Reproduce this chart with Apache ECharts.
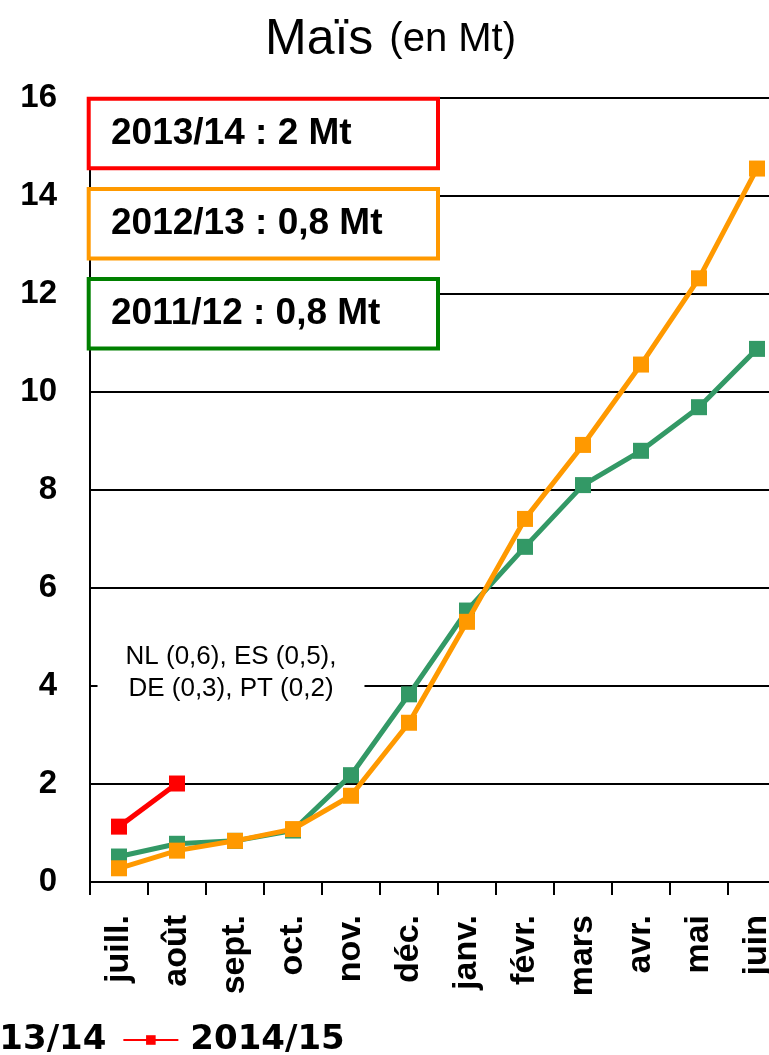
<!DOCTYPE html>
<html>
<head>
<meta charset="utf-8">
<script src="https://cdn.jsdelivr.net/npm/echarts@6/dist/echarts.min.js"></script>
<style>html,body{margin:0;padding:0;background:#fff;overflow:hidden;width:769px;height:1055px;}#c{width:800px;height:1055px;}</style>
</head>
<body>
<div id="c"></div>
<script>
var categories = ['juill.','août','sept.','oct.','nov.','déc.','janv.','févr.','mars','avr.','mai','juin'];
var seriesNames = ['2011/12','2012/13','2013/14','2014/15'];
var values1112 = [0.52, 0.78, 0.84, 1.05, 2.18, 3.83, 5.54, 6.84, 8.10, 8.80, 9.69, 10.88];
var values1213 = [0.28, 0.64, 0.84, 1.08, 1.76, 3.25, 5.31, 7.41, 8.92, 10.56, 12.32, 14.56];
var values1314 = [];
var values1415 = [1.13, 2.01];
var yTicks = [0, 2, 4, 6, 8, 10, 12, 14, 16];
var boxLabels = ['2013/14 : 2 Mt', '2012/13 : 0,8 Mt', '2011/12 : 0,8 Mt'];
var noteLines = ['NL (0,6), ES (0,5),', 'DE (0,3), PT (0,2)'];

var boxColors = ['#FF0000', '#FF9900', '#008000'];
var boxTops = [98.7, 189, 279];
var graphics = [];
boxLabels.forEach(function (t, i) {
  graphics.push({
    type: 'rect', z: 5,
    shape: {x: 88.7, y: boxTops[i], width: 349.3, height: 69.5},
    style: {fill: '#fff', stroke: boxColors[i], lineWidth: 4}
  });
  graphics.push({
    type: 'text', z: 6, x: 111, y: boxTops[i] + 35,
    style: {text: t, fill: '#000', font: 'bold 37px "Liberation Sans", Arial, sans-serif', textVerticalAlign: 'middle'}
  });
});
graphics.push({
  type: 'text', z: 6, x: 231, y: 641,
  style: {text: noteLines.join('\n'), fill: '#000', font: '26px "Liberation Sans", Arial, sans-serif',
    textAlign: 'center', lineHeight: 32, backgroundColor: '#fff', padding: [0, 28, 0, 28]}
});

var chart = echarts.init(document.getElementById('c'), null, {renderer: 'canvas'});
var lineColors = ['#339966', '#FF9900', '#3366FF', '#FF0000'];
var dataSets = [values1112, values1213, values1314, values1415];
chart.setOption({
  animation: false,
  backgroundColor: '#fff',
  title: {
    text: '{a|Maïs}{s| }{b|(en Mt)}',
    left: 260, top: 10,
    textStyle: {rich: {
      a: {fontSize: 50, fontFamily: '"Liberation Sans", Arial, sans-serif', color: '#000', fontWeight: 'normal'},
      s: {width: 16, fontSize: 20},
      b: {fontSize: 40, fontFamily: '"Liberation Sans", Arial, sans-serif', color: '#000', fontWeight: 'normal'}
    }}
  },
  legend: {
    data: ['2013/14', '2014/15'],
    left: -121, top: 1018,
    itemWidth: 55, itemHeight: 12, itemGap: 16,
    textStyle: {fontSize: 34, fontWeight: 'bold', fontFamily: '"DejaVu Sans", sans-serif', color: '#000', padding: [0, 0, 0, 7]}
  },
  grid: {left: 90, top: 98, width: 696, height: 784},
  xAxis: {
    type: 'category', data: categories, boundaryGap: true,
    axisLine: {lineStyle: {color: '#000', width: 2}},
    axisTick: {show: true, length: 13, interval: 0, lineStyle: {color: '#000', width: 2}},
    axisLabel: {rotate: 90, interval: 0, margin: 33, fontSize: 34, fontWeight: 'bold', color: '#000', fontFamily: '"Liberation Sans", Arial, sans-serif'},
    splitLine: {show: false}
  },
  yAxis: {
    type: 'value', min: yTicks[0], max: yTicks[yTicks.length - 1], interval: 2,
    axisLine: {show: true, lineStyle: {color: '#000', width: 2}},
    axisTick: {show: false},
    axisLabel: {margin: 33, fontSize: 33, fontWeight: 'bold', color: '#000', fontFamily: '"Liberation Sans", Arial, sans-serif'},
    splitLine: {show: true, lineStyle: {color: '#000', width: 2}}
  },
  series: seriesNames.map(function (n, i) {
    return {
      name: n, type: 'line', data: dataSets[i],
      symbol: 'rect', symbolSize: 16,
      lineStyle: {color: lineColors[i], width: 5},
      itemStyle: {color: lineColors[i]},
      z: 2 + i
    };
  }),
  graphic: graphics
});
</script>
</body>
</html>
